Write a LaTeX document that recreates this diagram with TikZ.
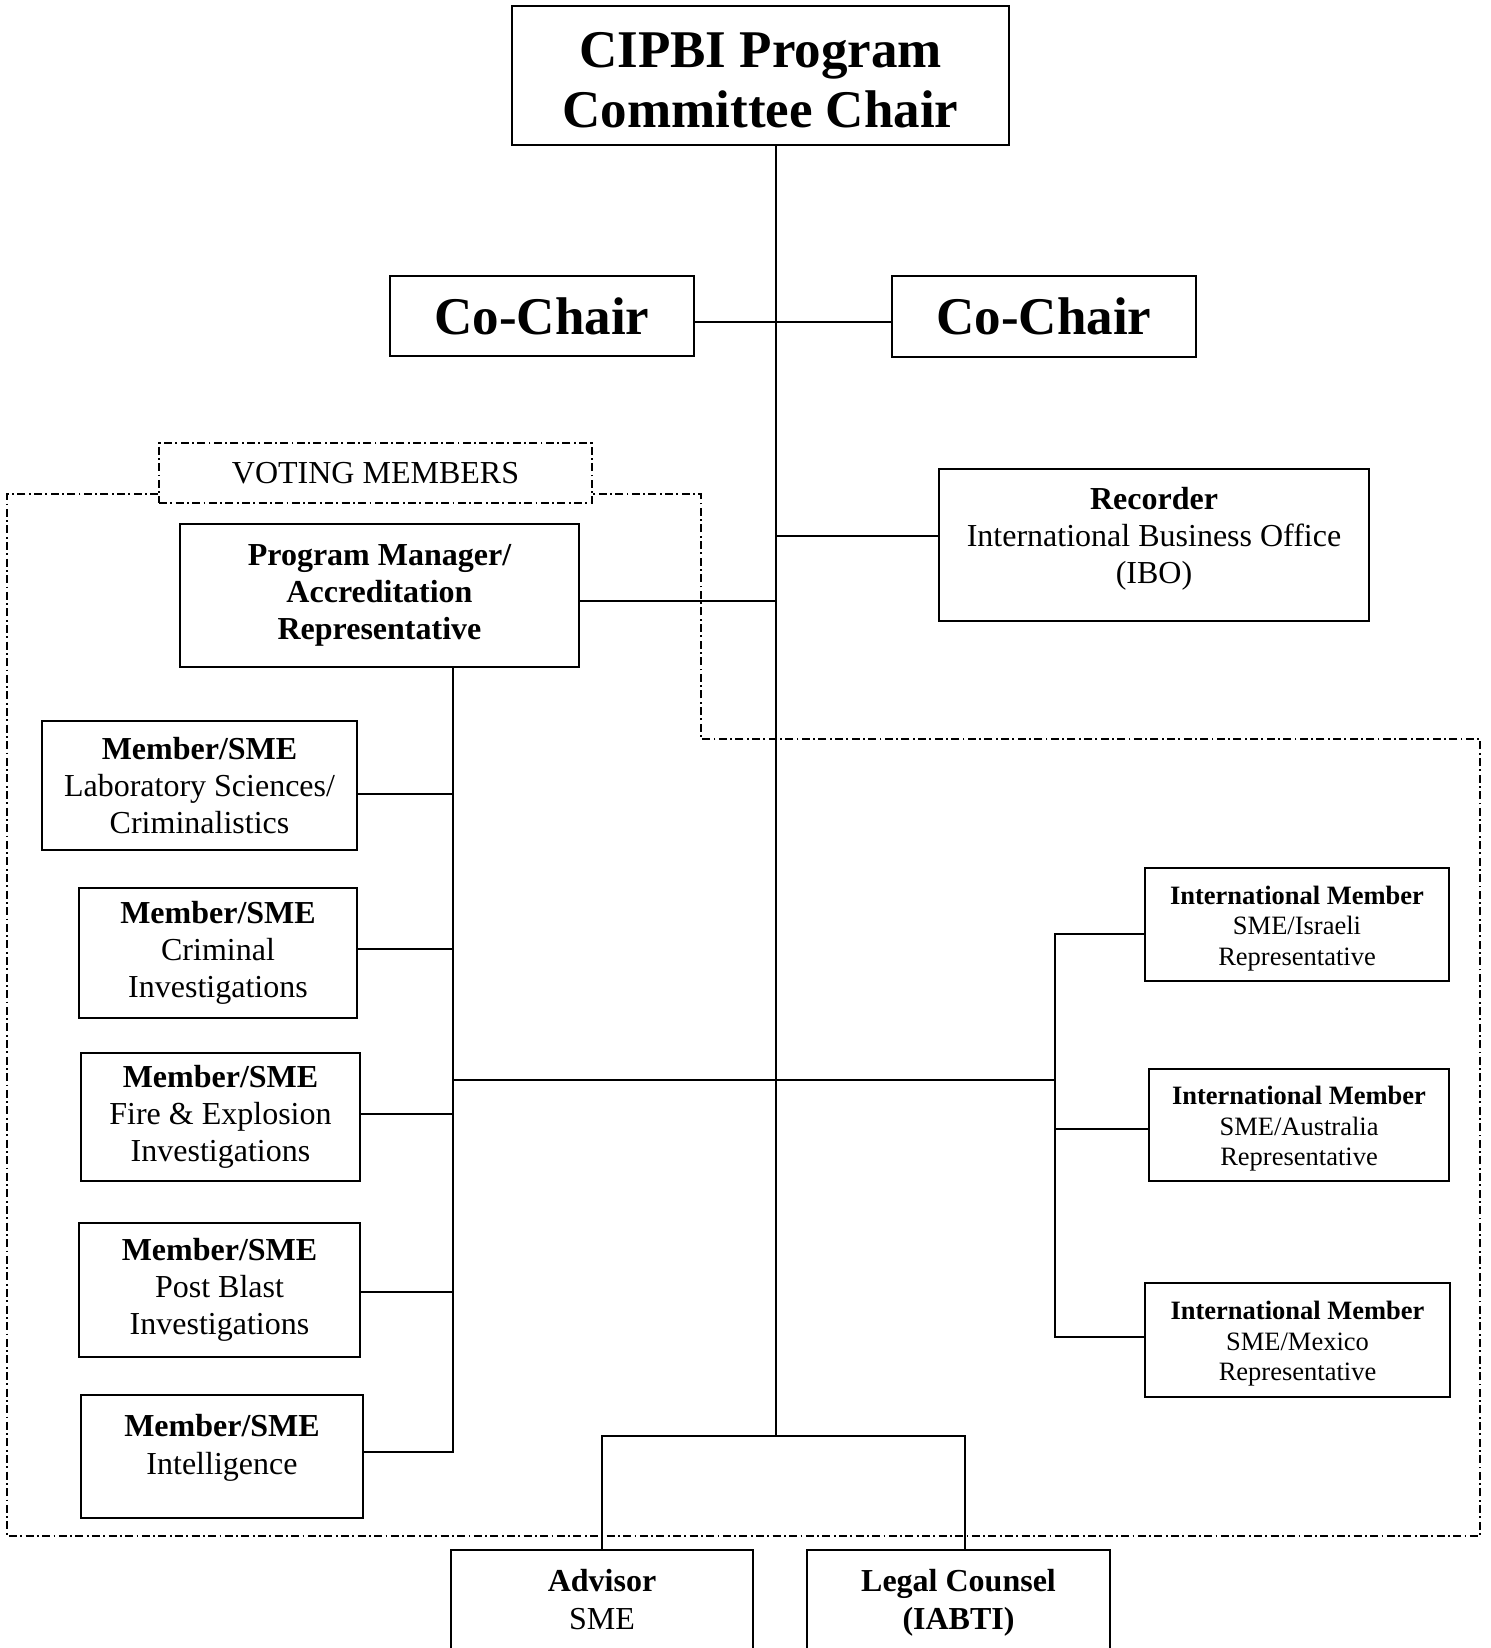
\documentclass[tikz,border=0pt]{standalone}
\usepackage{fontspec}
\setmainfont{Liberation Serif}

\tikzset{
  box/.style={draw, line width=1pt, align=center, inner sep=0pt},
  bigfont/.style={font=\fontsize{26.5}{30}\selectfont\bfseries},
  midfont/.style={font=\fontsize{16}{18.65}\selectfont},
  midbold/.style={font=\fontsize{16}{18.65}\selectfont\bfseries},
  smallfont/.style={font=\fontsize{13.25}{15.25}\selectfont},
  link/.style={line width=0.8pt},
  vote/.style={line width=0.8pt, dash pattern=on 4pt off 1.7pt on 0.9pt off 1.7pt},
}

\begin{document}
\begin{tikzpicture}[x=0.5pt, y=-0.5pt]
            \path[use as bounding box, clip] (0,0) rectangle (1490,1648);

            \node[box, bigfont, minimum width=248.5pt, minimum height=69.5pt] (chair) at (760.5,75.5) {\mbox{}\\[-7.3pt]CIPBI Program\\Committee Chair};
            \node[box, bigfont, minimum width=152pt, minimum height=40pt] (cl) at (542,316) {Co-Chair};
            \node[box, bigfont, minimum width=152pt, minimum height=40.5pt] (cr) at (1044,316.5) {Co-Chair};

            \node[box, midfont, minimum width=215pt, minimum height=76pt] (rec) at (1154,545) {\textbf{Recorder}\\International Business Office\\(IBO)\\[-9pt]\mbox{}};
            \node[box, midbold, minimum width=199.5pt, minimum height=71.5pt] (pm) at (379.5,595.5) {Program Manager/\\Accreditation\\Representative};

            \node[box, midfont, minimum width=157.5pt, minimum height=64.5pt] (lab) at (199.5,785.5) {\textbf{Member/SME}\\Laboratory Sciences/\\Criminalistics};
            \node[box, midfont, minimum width=139pt, minimum height=65pt] (crim) at (218,953) {\textbf{Member/SME}\\Criminal\\Investigations};
            \node[box, midfont, minimum width=139.5pt, minimum height=64pt] (fire) at (220.5,1117) {\textbf{Member/SME}\\Fire \& Explosion\\Investigations};
            \node[box, midfont, minimum width=140.5pt, minimum height=67pt] (post) at (219.5,1290) {\textbf{Member/SME}\\Post Blast\\Investigations};
            \node[box, midfont, minimum width=141pt, minimum height=61.5pt] (intel) at (222,1456.5) {\textbf{Member/SME}\\Intelligence\\[-6.6pt]\mbox{}};

            \node[box, smallfont, minimum width=152pt, minimum height=56.5pt] (is) at (1297,924.5) {\mbox{}\\[-2.2pt]\textbf{International Member}\\SME/Israeli\\Representative};
            \node[box, smallfont, minimum width=150pt, minimum height=56pt] (au) at (1299,1125) {\mbox{}\\[-2.2pt]\textbf{International Member}\\SME/Australia\\Representative};
            \node[box, smallfont, minimum width=152.5pt, minimum height=57pt] (mx) at (1297.5,1340) {\mbox{}\\[-2.2pt]\textbf{International Member}\\SME/Mexico\\Representative};

            \node[box, midfont, minimum width=151pt, minimum height=68pt] (adv) at (602,1618) {\textbf{Advisor}\\SME\\\mbox{}};
            \node[box, midbold, minimum width=151.5pt, minimum height=68pt] (legal) at (958.5,1618) {Legal Counsel\\(IABTI)\\\mbox{}};

            \node[draw, vote, midfont, inner sep=0pt, minimum width=216.5pt, minimum height=30pt] (vm) at (375.5,473) {VOTING MEMBERS};

            \coordinate (bot) at (776,1436);
            \coordinate (pmbot) at (453,1452);
            \coordinate (fork) at (1055,1080);

            \draw[link] (chair.south -| bot) -- (bot);
            \draw[link] ([yshift=-3pt]cl.east) -- ([yshift=-3pt]cl.east -| cr.west);
            \draw[link] ([yshift=4.5pt]rec.west) -- ([yshift=4.5pt]rec.west -| bot);
            \draw[link] ([yshift=-2.6pt]pm.east) -- ([yshift=-2.6pt]pm.east -| bot);
            \draw[link] (pm.south -| pmbot) -- (pmbot) -- (intel.east |- pmbot);
            \foreach \n/\s in {lab/-4.25, crim/2, fire/1.5, post/-1}
                \draw[link] ([yshift=\s pt]\n.east) -- ([yshift=\s pt]\n.east -| pmbot);
            \draw[link] (pmbot |- fork) -- (fork);
            \draw[link] ([yshift=-4.75pt]is.west) -| ([yshift=1.5pt]mx.west -| fork) -- ([yshift=1.5pt]mx.west);
            \draw[link] ([yshift=-2pt]au.west) -- ([yshift=-2pt]au.west -| fork);
            \draw[link] (adv.north) |- (bot) -| ([xshift=3.25pt]legal.north);

            \draw[vote] (vm.west |- 0,494) -- (7,494) -- (7,1536) -- (1480,1536) -- (1480,739) -- (701,739) -- (701,494) -- (vm.east |- 0,494);
\end{tikzpicture}
\end{document}
